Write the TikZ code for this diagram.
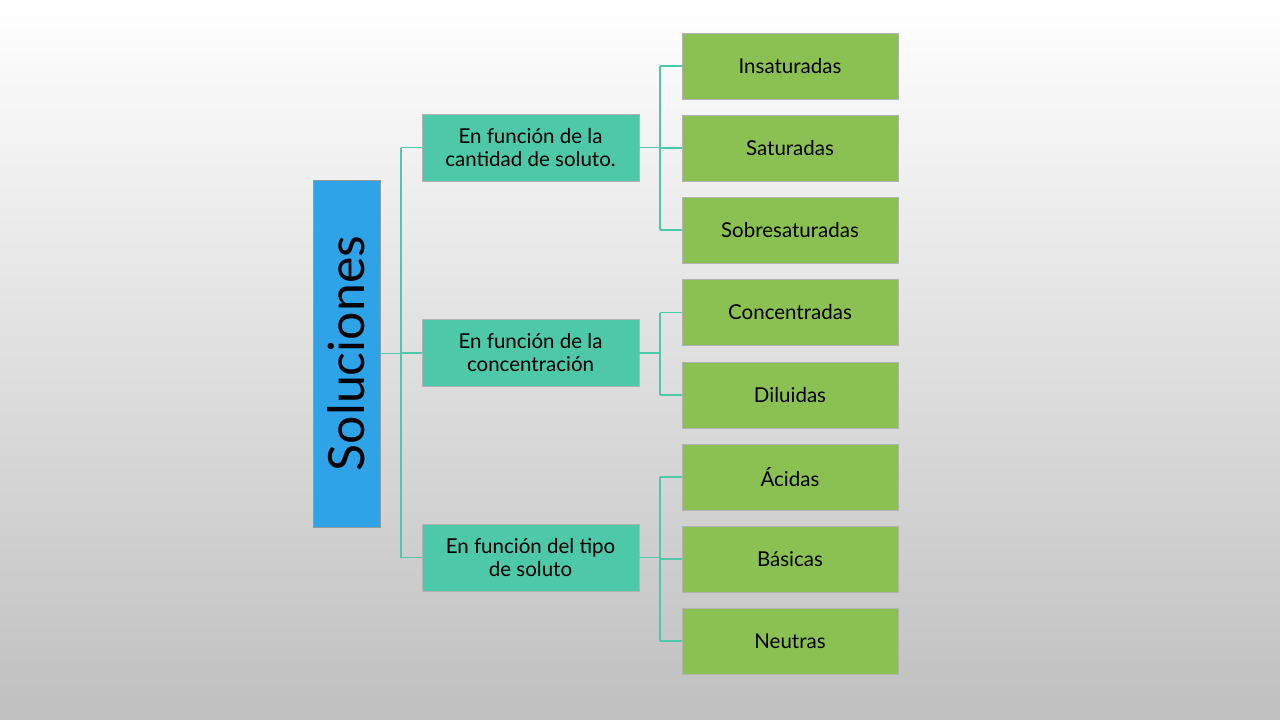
\documentclass[tikz,border=0pt]{standalone}
\usepackage{fontspec}
\setmainfont{Lato}
\begin{document}
\begin{tikzpicture}[x=1pt,y=-1pt,
  root/.style={draw=black!40,minimum width=67pt,minimum height=347pt,inner sep=0},
  mid/.style={draw=black!30,minimum width=217pt,minimum height=67pt,align=center,font=\fontsize{20.5}{23}\selectfont,inner sep=2pt},
  leaf/.style={draw=black!30,minimum width=216pt,minimum height=66pt,font=\fontsize{20.5}{23}\selectfont},
  conn/.style={draw=midc,line width=1.3pt}]
\definecolor{midc}{HTML}{4DC8A8}
\definecolor{leafc}{HTML}{8BC152}
\definecolor{rootc}{HTML}{2EA3E8}
\shade[top color=white,bottom color=black!25] (0,0) rectangle (1280,720);
\useasboundingbox (0,0) rectangle (1280,720);
\node[root,fill=rootc] (r) at (346.5,353.5) {};
\node[rotate=90,font=\fontsize{50}{54}\selectfont] at (r.center) {Soluciones};
\node[mid,fill=midc] (m1) at (530.5,147.5) {En función de la\\cantidad de soluto.};
\node[mid,fill=midc] (m2) at (530.5,353) {En función de la\\concentración};
\node[mid,fill=midc] (m3) at (530.5,557.5) {En función del tipo\\de soluto};
\foreach \n/\y/\t in {l1/66/Insaturadas,l2/148/Saturadas,l3/230/Sobresaturadas,l4/312.5/Concentradas,l5/395/Diluidas,l6/477/Ácidas,l7/559/Básicas,l8/641/Neutras}
  \node[leaf,fill=leafc] (\n) at (790,\y) {\t};
\coordinate (rj) at (401,0);
\coordinate (mj) at (660,0);
\draw[conn] (r.east) -- (r.east -| rj);
\draw[conn] (m1.west -| rj) -- (m3.west -| rj);
\foreach \m in {m1,m2,m3} \draw[conn] (\m.west -| rj) -- (\m.west);
\draw[conn] (l1.west -| mj) -- (l3.west -| mj);
\draw[conn] (l4.west -| mj) -- (l5.west -| mj);
\draw[conn] (l6.west -| mj) -- (l8.west -| mj);
\foreach \m in {m1,m2,m3} \draw[conn] (\m.east) -- (\m.east -| mj);
\foreach \l in {l1,l2,l3,l4,l5,l6,l7,l8} \draw[conn] (\l.west -| mj) -- (\l.west);
\end{tikzpicture}
\end{document}
